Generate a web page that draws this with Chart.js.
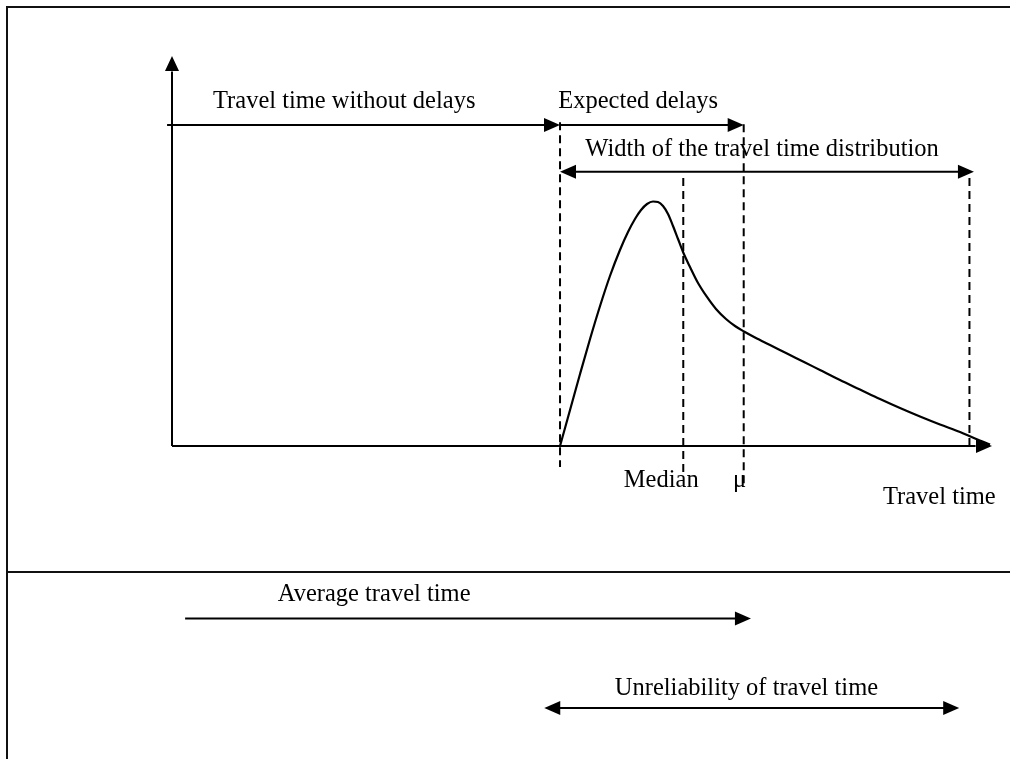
<!DOCTYPE html>
<html>
<head>
<meta charset="utf-8">
<script src="https://cdn.jsdelivr.net/npm/chart.js@4/dist/chart.umd.min.js"></script>
<style>
html,body{margin:0;padding:0;background:#fff;overflow:hidden}
#wrap{width:1010px;height:759px;position:relative}
</style>
</head>
<body>
<div id="wrap"><canvas id="c" width="1010" height="759"></canvas></div>
<script>
// ---- Data (travel time in arbitrary units, density in arbitrary units) ----
const travelTime = [47.32, 47.93, 48.54, 49.76, 50.98, 52.20, 53.41, 54.63, 55.61, 56.46, 57.20, 57.93, 58.66, 59.27, 59.88, 60.49, 61.10, 61.71, 62.32, 63.17, 64.15, 65.24, 66.34, 67.56, 68.66, 69.76, 71.10, 72.93, 75.00, 77.20, 79.02, 81.46, 83.90, 86.34, 88.78, 91.22, 93.66, 96.10, 97.93, 99.76];
const density    = [0.00, 4.62, 9.23, 18.46, 27.44, 35.90, 43.59, 50.26, 54.87, 58.21, 60.51, 62.05, 62.69, 62.56, 61.54, 59.49, 56.41, 53.08, 49.74, 45.90, 41.79, 38.21, 35.13, 32.56, 30.77, 29.36, 27.82, 25.90, 23.72, 21.41, 19.49, 16.92, 14.49, 12.05, 9.74, 7.56, 5.51, 3.59, 1.92, 0.38];

// Characteristic travel times
const freeFlowTime = 47.32;   // travel time without delays
const medianTime   = 62.35;   // median
const meanTime     = 69.72;   // mu (average)
const upperTime    = 97.25;   // upper end of distribution width

// Texts
const txtNoDelay   = "Travel time without delays";
const txtExpected  = "Expected delays";
const txtWidth     = "Width of the travel time distribution";
const txtMedian    = "Median";
const txtMu        = "\u03bc";
const txtAxis      = "Travel time";
const txtAverage   = "Average travel time";
const txtUnrel     = "Unreliability of travel time";

// ---- Drawing helpers / layout (not data) ----
const FONT = '24.5px "Liberation Serif", "Times New Roman", serif';
const INK = '#000';

function arrowHead(ctx, x, y, dir, len, half) {
  ctx.beginPath();
  if (dir === 'right') { ctx.moveTo(x, y); ctx.lineTo(x - len, y - half); ctx.lineTo(x - len, y + half); }
  else if (dir === 'left') { ctx.moveTo(x, y); ctx.lineTo(x + len, y - half); ctx.lineTo(x + len, y + half); }
  else if (dir === 'up') { ctx.moveTo(x, y); ctx.lineTo(x - half, y + len); ctx.lineTo(x + half, y + len); }
  ctx.closePath();
  ctx.fill();
}

const diagramPlugin = {
  id: 'diagram',
  afterDatasetsDraw(chart) {
    const ctx = chart.ctx;
    const X = v => chart.scales.x.getPixelForValue(v);
    const Y = v => chart.scales.y.getPixelForValue(v);
    ctx.save();
    ctx.strokeStyle = INK; ctx.fillStyle = INK; ctx.lineCap = 'butt';

    // Frame
    ctx.lineWidth = 2;
    ctx.strokeStyle = '#111';
    ctx.beginPath();
    ctx.moveTo(7, chart.height); ctx.lineTo(7, 7); ctx.lineTo(chart.width, 7);
    ctx.moveTo(7, Y(-32.3)); ctx.lineTo(chart.width, Y(-32.3));
    ctx.stroke();
    ctx.strokeStyle = INK;

    // Axes
    ctx.lineWidth = 2;
    ctx.beginPath();
    ctx.moveTo(X(0), Y(0)); ctx.lineTo(X(0), Y(96));
    ctx.moveTo(X(0), Y(0)); ctx.lineTo(X(98), Y(0));
    ctx.stroke();
    arrowHead(ctx, X(0), Y(100), 'up', 15, 7);
    arrowHead(ctx, X(100), Y(0), 'right', 16, 7);

    // Dashed reference lines
    ctx.setLineDash([8, 5]);
    ctx.lineWidth = 2;
    const dashed = [
      [freeFlowTime, 83.0, -5.4],
      [medianTime, 68.7, -7.4],
      [meanTime, 82.5, -9.9],
      [upperTime, 68.7, 0]
    ];
    dashed.forEach(([t, y0, y1]) => {
      ctx.beginPath(); ctx.moveTo(X(t), Y(y0)); ctx.lineTo(X(t), Y(y1)); ctx.stroke();
    });
    ctx.setLineDash([]);

    // Arrows
    const arrows = [
      { x0: -0.6, x1: freeFlowTime, y: 82.3, heads: ['right'] },
      { x0: freeFlowTime, x1: meanTime, y: 82.3, heads: ['right'] },
      { x0: freeFlowTime, x1: upperTime + 0.55, y: 70.3, heads: ['left', 'right'] },
      { x0: 1.6, x1: 70.6, y: -44.2, heads: ['right'] },
      { x0: 45.4, x1: 96.0, y: -67.2, heads: ['left', 'right'] }
    ];
    arrows.forEach(a => {
      const px0 = X(a.x0), px1 = X(a.x1), py = Y(a.y);
      ctx.lineWidth = 2;
      ctx.beginPath();
      ctx.moveTo(a.heads.includes('left') ? px0 + 10 : px0, py);
      ctx.lineTo(px1 - 10, py);
      ctx.stroke();
      if (a.heads.includes('right')) arrowHead(ctx, px1, py, 'right', 16, 7);
      if (a.heads.includes('left')) arrowHead(ctx, px0, py, 'left', 16, 7);
    });

    // Texts
    ctx.font = FONT;
    ctx.textAlign = 'left';
    ctx.textBaseline = 'alphabetic';
    const texts = [
      [txtNoDelay, 5.0, 86.7],
      [txtExpected, 47.1, 86.7],
      [txtWidth, 50.4, 74.4],
      [txtMedian, 55.1, -10.5],
      [txtMu, 68.4, -10.5],
      [txtAxis, 86.7, -14.9],
      [txtAverage, 12.9, -39.7],
      [txtUnrel, 54.0, -63.8]
    ];
    texts.forEach(([s, x, y]) => ctx.fillText(s, X(x), Y(y)));
    ctx.restore();
  }
};

new Chart(document.getElementById('c'), {
  type: 'line',
  data: {
    datasets: [{
      data: travelTime.map((t, i) => ({ x: t, y: density[i] })),
      borderColor: INK,
      borderWidth: 2.2,
      pointRadius: 0,
      fill: false,
      cubicInterpolationMode: 'monotone'
    }]
  },
  options: {
    responsive: false,
    animation: false,
    devicePixelRatio: 1,
    events: [],
    layout: { padding: { left: 172, right: 18, top: 56, bottom: 313 } },
    plugins: { legend: { display: false }, tooltip: { enabled: false }, title: { display: false } },
    scales: {
      x: { type: 'linear', min: 0, max: 100, display: false },
      y: { type: 'linear', min: 0, max: 100, display: false }
    }
  },
  plugins: [diagramPlugin]
});
</script>
</body>
</html>
